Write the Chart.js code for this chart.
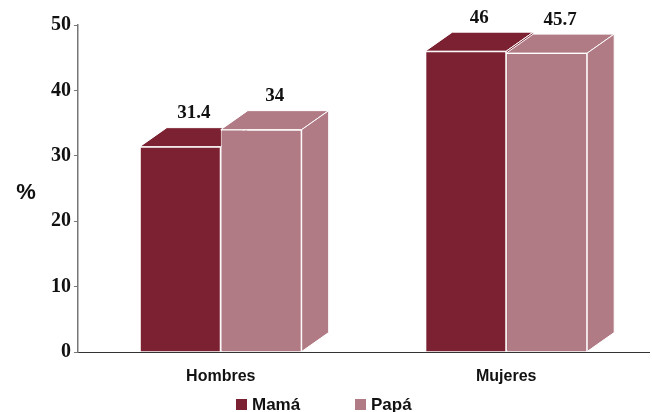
<!DOCTYPE html>
<html>
<head>
<meta charset="utf-8">
<script src="https://cdn.jsdelivr.net/npm/chart.js@4"></script>
<style>
  html, body { margin: 0; padding: 0; background: #fff; }
  #wrap { width: 652px; height: 412px; }
</style>
</head>
<body>
<div id="wrap"><canvas id="myChart" width="652" height="412"></canvas></div>
<script>
const categories = ["Hombres", "Mujeres"];
const mama = [31.4, 46];
const papa = [34, 45.7];
const seriesNames = ["Mamá", "Papá"];

const colorMama = "#7b2131";
const colorPapa = "#b07b84";
const depthX = 27;
const depthY = 19;

// draws top and side faces behind the front bars, then labels and legend
const box3d = {
  id: "box3d",
  beforeDatasetsDraw(chart) {
    const ctx = chart.ctx;
    ctx.save();
    ctx.strokeStyle = "#ffffff";
    ctx.lineWidth = 1;
    chart.data.datasets.forEach((ds, di) => {
      const meta = chart.getDatasetMeta(di);
      meta.data.forEach((bar) => {
        const p = bar.getProps(["x", "y", "base", "width"], true);
        const l = p.x - p.width / 2;
        const r = p.x + p.width / 2;
        ctx.fillStyle = ds.backgroundColor;
        // top
        ctx.beginPath();
        ctx.moveTo(l, p.y);
        ctx.lineTo(r, p.y);
        ctx.lineTo(r + depthX, p.y - depthY);
        ctx.lineTo(l + depthX, p.y - depthY);
        ctx.closePath();
        ctx.fill();
        ctx.stroke();
        // side
        ctx.beginPath();
        ctx.moveTo(r, p.y);
        ctx.lineTo(r + depthX, p.y - depthY);
        ctx.lineTo(r + depthX, p.base - depthY);
        ctx.lineTo(r, p.base);
        ctx.closePath();
        ctx.fill();
        ctx.stroke();
      });
    });
    ctx.restore();
  },
  afterDatasetsDraw(chart) {
    const ctx = chart.ctx;
    ctx.save();
    ctx.fillStyle = "#111";
    ctx.font = "bold 19px 'Liberation Serif'";
    ctx.textAlign = "center";
    ctx.textBaseline = "bottom";
    chart.data.datasets.forEach((ds, di) => {
      const meta = chart.getDatasetMeta(di);
      meta.data.forEach((bar, i) => {
        const p = bar.getProps(["x", "y"], true);
        ctx.fillText(String(ds.data[i]), p.x + depthX / 2, p.y - depthY - 5);
      });
    });
    // "%" axis label
    ctx.font = "bold 22px 'Liberation Sans'";
    ctx.textAlign = "center";
    ctx.textBaseline = "middle";
    ctx.fillText("%", 26, 193);

    // legend
    ctx.font = "bold 17px 'Liberation Sans'";
    ctx.textAlign = "left";
    const legendX = [236, 355];
    chart.data.datasets.forEach((ds, di) => {
      ctx.fillStyle = ds.backgroundColor;
      ctx.fillRect(legendX[di], 399, 11, 11);
      ctx.fillStyle = "#111";
      ctx.fillText(ds.label, legendX[di] + 16, 405);
    });
    ctx.restore();
  },
};

const ctx = document.getElementById("myChart").getContext("2d");
const myChart = new Chart(ctx, {
  type: "bar",
  data: {
    labels: categories,
    datasets: [
      {
        label: seriesNames[0],
        data: mama,
        backgroundColor: colorMama,
        borderColor: "#ffffff",
        borderWidth: 1,
      },
      {
        label: seriesNames[1],
        data: papa,
        backgroundColor: colorPapa,
        borderColor: "#ffffff",
        borderWidth: 1,
      },
    ],
  },
  options: {
    responsive: false,
    animation: false,
    layout: { padding: { top: 25, right: 3, left: 0, bottom: 0 } },
    datasets: {
      bar: { categoryPercentage: 0.567, barPercentage: 1 },
    },
    plugins: {
      legend: { display: false },
      tooltip: { enabled: false },
    },
    scales: {
      x: {
        afterFit(scale) {
          scale.height = 60;
        },
        grid: { display: false },
        border: { color: "#333", width: 1 },
        ticks: {
          color: "#111",
          padding: 7,
          font: { family: "'Liberation Sans'", size: 16, weight: "bold" },
        },
      },
      y: {
        min: 0,
        max: 50,
        afterFit(scale) {
          scale.width = 78;
        },
        grid: {
          drawOnChartArea: false,
          drawTicks: true,
          tickLength: 4,
          color: "#777",
        },
        border: { color: "#777", width: 1.5 },
        ticks: {
          stepSize: 10,
          color: "#111",
          padding: 3,
          font: { family: "'Liberation Serif'", size: 20, weight: "bold" },
        },
      },
    },
  },
  plugins: [box3d],
});
</script>
</body>
</html>
